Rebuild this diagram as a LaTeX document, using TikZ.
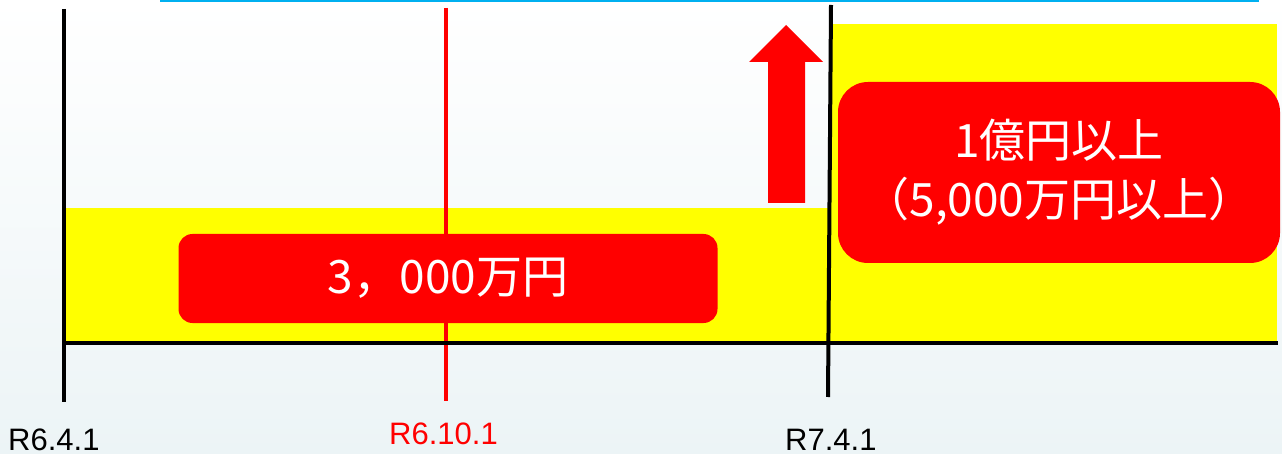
\documentclass[tikz,border=0pt]{standalone}
\usepackage{fontspec}
\setmainfont{Liberation Sans}
\newfontfamily\cjk{Noto Sans CJK JP}
\definecolor{cyanline}{RGB}{0,176,240}
\definecolor{ybar}{RGB}{255,255,0}
\definecolor{rbox}{RGB}{255,0,0}
\definecolor{bgbot}{RGB}{236,244,246}
\begin{document}
\begin{tikzpicture}[x=1pt,y=-1pt,
  band/.style={fill=ybar, draw=none},
  tline/.style={line width=4pt, black},
  redline/.style={line width=4pt, rbox},
  pricebox/.style={fill=rbox, draw=none, text=white, inner sep=0pt, align=center, font=\cjk\fontsize{46}{59}\selectfont},
  datelabel/.style={anchor=base west, inner sep=0pt, font=\fontsize{31}{36}\selectfont}]
% background
\shade[top color=white, bottom color=bgbot] (0,0) rectangle (1282,454);
\useasboundingbox (0,0) rectangle (1282,454);
% top cyan line
\coordinate (c1) at (160,1.2);
\coordinate (c2) at (1259,1.2);
\draw[cyanline, line width=2.4pt] (c1) -- (c2);
% yellow bands
\fill[band] (65,208) rectangle (830,341);
\fill[band] (830,24) rectangle (1277,341);
% timeline coordinates
\coordinate (l1t) at (64,9);
\coordinate (l1b) at (64,402);
\coordinate (l2t) at (446,8);
\coordinate (l2b) at (446,401);
\coordinate (l3t) at (831,5);
\coordinate (l3b) at (828,397);
\coordinate (hL) at (64,343);
\coordinate (hR) at (1278,343);
\draw[redline] (l2t) -- (l2b);
\draw[tline] (l1t) -- (l1b);
\draw[tline] (l3t) -- (l3b);
\draw[tline] (hL) -- (hR);
% up arrow
\fill[rbox] (786,25) -- (823,62) -- (805,62) -- (805,203) -- (768,203) -- (768,62) -- (749,62) -- cycle;
% price boxes
\node[pricebox, rounded corners=14pt, minimum width=539pt, minimum height=89pt] (b1) at (448,278.5) {3，000万円};
\node[pricebox, rounded corners=30pt, minimum width=442pt, minimum height=181pt] (b2) at (1059,172.5) {\raisebox{-4pt}{1億円以上}\\\raisebox{-4pt}{（5,000万円以上）}};
% date labels
\node[datelabel] (d1) at (8,450) {R6.4.1};
\node[datelabel, text=rbox] (d2) at (389,444) {R6.10.1};
\node[datelabel] (d3) at (785,450) {R7.4.1};
\end{tikzpicture}
\end{document}
